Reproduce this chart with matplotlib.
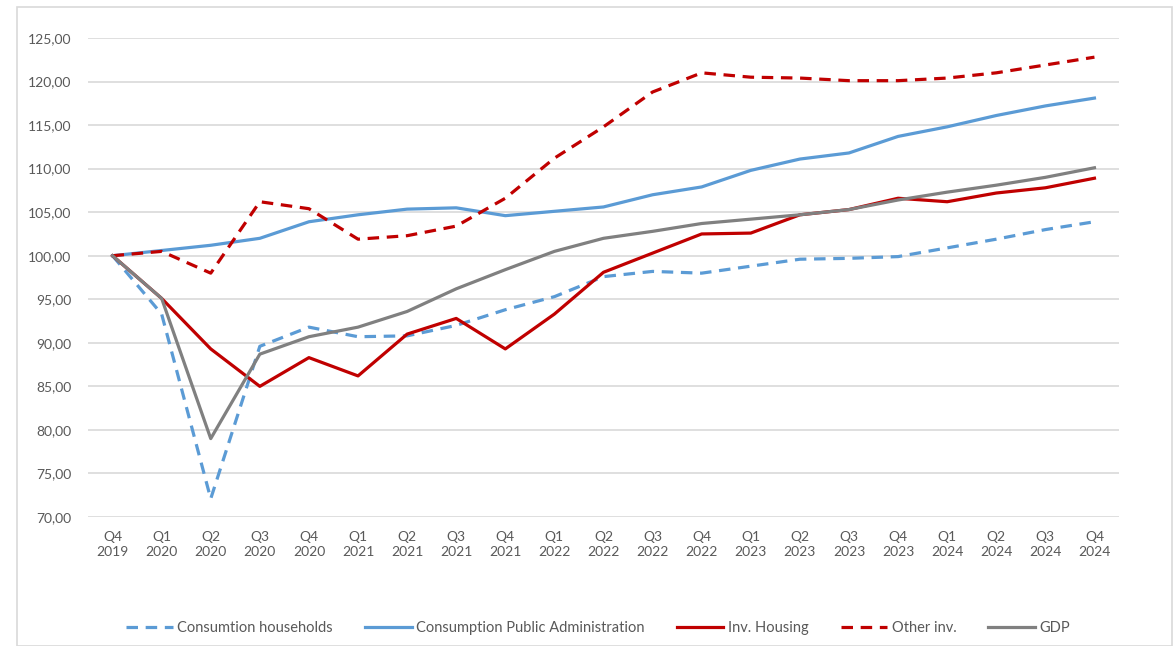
import numpy as np
import matplotlib
matplotlib.use("Agg")
import matplotlib.pyplot as plt
from matplotlib.patches import Rectangle

plt.rcParams['font.family'] = ['Lato', 'DejaVu Sans']

# dati (indice 2019Q4 = 100)
quarters = ["Q4\n2019", "Q1\n2020", "Q2\n2020", "Q3\n2020", "Q4\n2020",
            "Q1\n2021", "Q2\n2021", "Q3\n2021", "Q4\n2021",
            "Q1\n2022", "Q2\n2022", "Q3\n2022", "Q4\n2022",
            "Q1\n2023", "Q2\n2023", "Q3\n2023", "Q4\n2023",
            "Q1\n2024", "Q2\n2024", "Q3\n2024", "Q4\n2024"]
households = [100.0, 93.3, 72.1, 89.6, 91.8, 90.7, 90.8, 92.0, 93.8, 95.3, 97.6,
              98.2, 98.0, 98.8, 99.6, 99.7, 99.9, 100.9, 101.9, 103.0, 103.9]
public_adm = [100.0, 100.6, 101.2, 102.0, 103.9, 104.7, 105.35, 105.5, 104.6, 105.1, 105.6,
              107.0, 107.9, 109.8, 111.1, 111.8, 113.7, 114.8, 116.1, 117.2, 118.1]
housing = [100.0, 95.1, 89.3, 85.0, 88.3, 86.2, 91.0, 92.8, 89.3, 93.3, 98.1,
           100.3, 102.5, 102.6, 104.7, 105.3, 106.6, 106.2, 107.2, 107.8, 108.9]
other_inv = [100.0, 100.5, 98.0, 106.2, 105.4, 101.9, 102.3, 103.4, 106.6, 111.2, 114.8,
             118.8, 121.0, 120.5, 120.4, 120.1, 120.1, 120.4, 121.0, 121.9, 122.8]
gdp = [100.0, 95.1, 79.0, 88.7, 90.7, 91.8, 93.6, 96.2, 98.4, 100.5, 102.0,
       102.8, 103.7, 104.2, 104.7, 105.3, 106.4, 107.3, 108.1, 109.0, 110.1]

W, H = 1173, 646
fig = plt.figure(figsize=(W / 100, H / 100), dpi=100)
# cornice esterna
fig.patches.append(Rectangle((17 / W, 0), 1 - 17 / W - 0.001, 1 - 7 / H, transform=fig.transFigure,
                             fill=False, edgecolor="#d9d9d9", linewidth=1.2))

ax = fig.add_axes([88 / W, 1 - 517 / H, (1119 - 88) / W, (517 - 38) / H])
x = np.arange(len(quarters))
lw = 2.3
ax.plot(x, households, color="#5b9bd5", lw=lw, dashes=(3.6, 2.4), label="Consumtion households")
ax.plot(x, public_adm, color="#5b9bd5", lw=lw, label="Consumption Public Administration")
ax.plot(x, housing, color="#c00000", lw=lw, label="Inv. Housing")
ax.plot(x, other_inv, color="#c00000", lw=lw, dashes=(3.6, 2.4), label="Other inv.")
ax.plot(x, gdp, color="#808080", lw=lw, label="GDP")

ax.set_xlim(-0.5, len(quarters) - 0.5)
ax.set_ylim(70, 125)
ax.set_yticks(np.arange(70, 126, 5))
ax.set_yticklabels(["%d,00" % v for v in np.arange(70, 126, 5)])
ax.set_xticks(x)
ax.set_xticklabels(quarters, linespacing=1.35)
ax.tick_params(length=0, colors="#595959", labelsize=10)
ax.tick_params(axis="x", pad=10)
ax.tick_params(axis="y", pad=12)
ax.grid(axis="y", color="#d9d9d9", linewidth=1.2)
ax.set_axisbelow(True)
for s in ax.spines.values():
    s.set_visible(False)

fig.legend(loc="center", bbox_to_anchor=(0.51, 1 - 628 / H), ncol=5, frameon=False,
           fontsize=10.5, handlelength=3.2, columnspacing=2.2, handletextpad=0.3,
           labelcolor="#595959")

fig.savefig("out.png", dpi=100)
plt.close()
